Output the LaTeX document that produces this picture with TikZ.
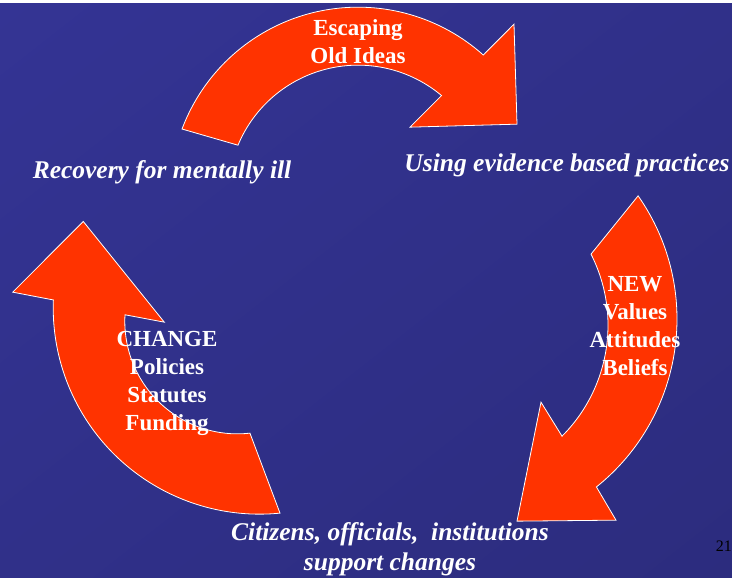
\documentclass[tikz,border=0pt]{standalone}
\usepackage{fontspec}
\setmainfont{Liberation Serif}
\usetikzlibrary{shadings}
\definecolor{bgupper}{RGB}{52,52,148}
\definecolor{bgmid}{RGB}{48,48,137}
\definecolor{bglower}{RGB}{44,44,126}
\definecolor{arrowred}{RGB}{255,51,0}

\begin{document}
\begin{tikzpicture}[x=1pt, y=1pt,
  bigarrow/.style={fill=arrowred, draw=white, line width=0.8pt, line join=miter},
  stage/.style={text=white, font=\fontsize{25.5}{30.6}\selectfont\bfseries\itshape, align=center, inner sep=0pt},
  boxtext/.style={text=white, font=\fontsize{23}{28}\selectfont\bfseries, align=center, inner sep=0pt}]
% Background
\shade[upper left=bgupper, upper right=bgmid, lower left=bgmid, lower right=bglower] (0,0) rectangle (732,574);
% Centres of the curved arrows
\coordinate (topc) at (358,382);
\coordinate (rgtc) at (462,258);
\coordinate (rgti) at (451,252);
\coordinate (lftc) at (259.5,269.3);
\coordinate (lfti) at (237.4,255.9);
% Top arrow
\draw[bigarrow] ([shift={(159.4:188)}]topc) arc[start angle=159.4, end angle=48.2, radius=188]
  -- (514,553) -- (517,453) -- (410,450)
  -- ([shift={(50:130)}]topc) arc[start angle=50, end angle=157.4, radius=130] -- cycle;
% Right arrow
\draw[bigarrow] ([shift={(35:215)}]rgtc) arc[start angle=35, end angle=-51.3, radius=215]
  -- (616,57) -- (517,56) -- (541,175)
  -- ([shift={(-45:157)}]rgti) arc[start angle=-45, end angle=26.9, radius=157] -- cycle;
% Left arrow
\draw[bigarrow] ([shift={(-84.3:206.3)}]lftc) arc[start angle=-84.3, end angle=-182.2, radius=206.3]
  -- (12.7,285) -- (83.3,355.7) -- (164.3,255)
  -- ([shift={(-183.3:112.6)}]lfti) arc[start angle=-183.3, end angle=-83.6, radius=112.6] -- cycle;
% Texts on the arrows
\node[boxtext] (escape) at (358,536) {Escaping\\Old Ideas};
\node[boxtext] (values) at (635,251) {NEW\\Values\\Attitudes\\Beliefs};
\node[boxtext] (change) at (167,194) {CHANGE\\Policies\\Statutes\\Funding};
% Stages
\node[stage] (recovery) at (162,405) {Recovery for mentally ill};
\node[stage] (evidence) at (567,412) {Using evidence based practices};
\node[stage] (citizens) at (390,28) {Citizens, officials,~ institutions\\support changes};
% Slide number
\node[font=\fontsize{16}{19}\selectfont, anchor=east, inner sep=0pt] (slidenum) at (732,31) {21};
\end{tikzpicture}
\end{document}
